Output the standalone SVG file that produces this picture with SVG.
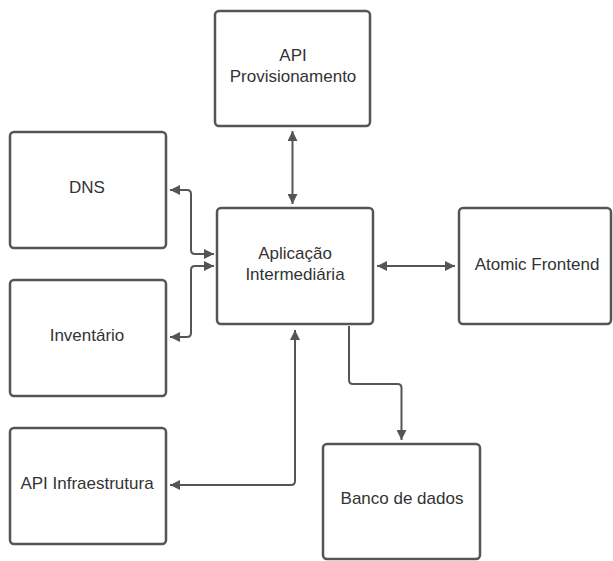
<svg xmlns="http://www.w3.org/2000/svg" width="613" height="561" viewBox="0 0 613 561">
<style>
.box{fill:#fff;stroke:#555;stroke-width:2.5}
.lbl{font-family:"Liberation Sans",Arial,sans-serif;font-size:17px;fill:#333;text-anchor:middle}
.con{fill:none;stroke:#555;stroke-width:2;stroke-linejoin:round}
</style>
<defs>
<marker id="ah" viewBox="0 0 10 10" refX="10" refY="5" markerWidth="10" markerHeight="10" markerUnits="userSpaceOnUse" orient="auto-start-reverse">
<path d="M0,0 L10,5 L0,10 Z" fill="#555"/>
</marker>
</defs>
<rect width="613" height="561" fill="#fff"/>
<g id="connectors">
<path class="con" d="M292.5,131 L292.5,204" marker-start="url(#ah)" marker-end="url(#ah)"/>
<path class="con" d="M170,190 L187,190 Q191,190 191,194 L191,250 Q191,254 195,254 L214,254" marker-start="url(#ah)" marker-end="url(#ah)"/>
<path class="con" d="M170,337 L187,337 Q191,337 191,333 L191,270 Q191,266 195,266 L214,266" marker-start="url(#ah)" marker-end="url(#ah)"/>
<path class="con" d="M170,485 L291,485 Q295,485 295,481 L295,330" marker-start="url(#ah)" marker-end="url(#ah)"/>
<path class="con" d="M377,266 L455,266" marker-start="url(#ah)" marker-end="url(#ah)"/>
<path class="con" d="M349,326 L349,380 Q349,384 353,384 L397.5,384 Q401.5,384 401.5,388 L401.5,440" marker-end="url(#ah)"/>
</g>
<g id="api-provisionamento">
<rect class="box" x="215" y="11" width="155" height="115" rx="4"/>
<text class="lbl" x="293" y="61">API</text>
<text class="lbl" x="293" y="82">Provisionamento</text>
</g>
<g id="dns">
<rect class="box" x="10" y="132" width="156" height="116" rx="4"/>
<text class="lbl" x="87" y="193">DNS</text>
</g>
<g id="inventario">
<rect class="box" x="10" y="280" width="156" height="116" rx="4"/>
<text class="lbl" x="87" y="341">Inventário</text>
</g>
<g id="api-infraestrutura">
<rect class="box" x="10" y="428" width="156" height="116" rx="4"/>
<text class="lbl" x="87" y="489">API Infraestrutura</text>
</g>
<g id="aplicacao-intermediaria">
<rect class="box" x="217" y="208" width="156" height="116" rx="4"/>
<text class="lbl" x="295" y="259">Aplicação</text>
<text class="lbl" x="295" y="280">Intermediária</text>
</g>
<g id="atomic-frontend">
<rect class="box" x="459" y="208" width="152" height="116" rx="4"/>
<text class="lbl" x="537" y="270">Atomic Frontend</text>
</g>
<g id="banco-de-dados">
<rect class="box" x="323" y="444" width="157" height="115" rx="4"/>
<text class="lbl" x="402" y="504">Banco de dados</text>
</g>
</svg>
